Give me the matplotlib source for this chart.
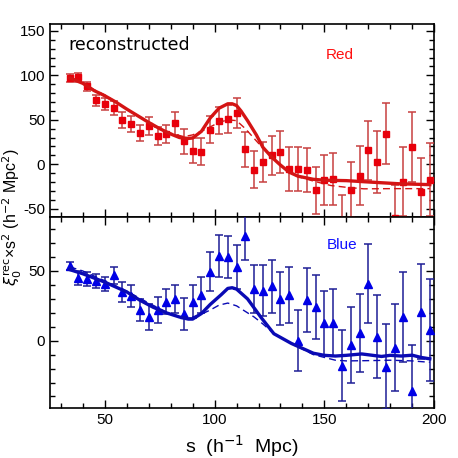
import numpy as np
import matplotlib.pyplot as plt
from matplotlib.ticker import MultipleLocator

plt.rcParams['font.family'] = ['Liberation Sans', 'DejaVu Sans']
plt.rcParams['axes.unicode_minus'] = False

# binned measurements (s in h^-1 Mpc)
s = np.arange(34, 199, 4)

red_xi = [97, 98, 87.5, 72, 68, 63, 50, 45, 35, 43, 32, 34, 46, 26, 15, 14,
          39, 49, 51, 58, 16.7, -6, 2.7, 10, 13.6, -5.7, -5.7, -6.8, -29.5,
          -18, -16.5, -65, -28.7, -12.8, 15.6, 2.3, 34.5, -60, -19.7, 19.3,
          -31.4, -17.4]
red_err = [4, 5, 5, 6, 7, 8, 9, 9, 9, 10, 10, 10, 13, 14, 14, 15, 15, 15, 16,
           17, 20, 20.5, 22.7, 22.3, 23.4, 24.6, 24.6, 25, 26, 28, 29, 30, 31,
           33, 33, 34.7, 34.5, 37, 39, 39, 38.6, 41]

blue_xi = [53.6, 44.7, 44, 43, 41, 47, 35, 32, 22, 17, 22, 28, 30, 19, 28, 33,
           49.5, 61, 60, 53, 75, 37, 36, 39, 30, 33, 0, 29, 24, 12.4, 12.9,
           -17.9, -3, 5.7, 41, 2.9, -18.6, -5, 16.8, -35.9, 20.8, 7.7]
blue_err = [3, 5, 5, 5, 5, 6, 7, 8, 8, 9, 9, 9, 10, 11.5, 12, 13, 14, 15, 15,
            16, 17, 17, 18, 19, 19, 20, 22, 23, 23, 23, 24, 25.3, 27, 28, 28.5,
            29.8, 30.4, 31, 32.3, 33, 34, 36.5]

# model curves
s_red = [34, 40, 45, 50, 55, 60, 66, 70, 75, 80, 84, 88, 90, 94, 98, 102, 106,
         108, 110, 112, 115, 119, 122, 126, 130, 134, 138, 145, 150, 160, 170,
         184, 198]
red_model = [97, 91, 83, 77, 70, 62, 53, 47, 40, 34, 30, 29, 29.5, 37, 52, 63,
             68, 68, 66, 60, 49, 33, 19, 8, -1, -9, -13.5, -17, -18, -18.5,
             -20, -22, -23]
s_red_d = [34, 40, 45, 50, 55, 60, 66, 70, 75, 80, 86, 90, 94, 98, 102, 106,
           110, 114, 118, 122, 126, 130, 134, 138, 145, 153, 160, 168, 180,
           190, 198]
red_nowig = [98, 92, 84, 78, 70, 62, 53, 47, 40, 35, 31, 33, 37, 42, 47, 50,
             49, 40, 29, 18, 8, -1, -9, -14, -19, -24, -26, -27.7, -27.5,
             -27.5, -27.5]

s_blue = [34, 40, 50, 60, 66, 72, 78, 84, 88, 90, 94, 98, 103, 106, 108, 110,
          115, 121, 127, 135, 145, 150, 155, 160, 167, 172, 176, 180, 185,
          190, 194, 198]
blue_model = [51, 48, 42, 35, 29, 24, 20, 17, 15.5, 15.5, 19.5, 26, 33, 37.5,
              38, 37, 30, 17, 5, -2, -9, -10.5, -11, -10.5, -9.5, -10.5,
              -11.3, -10.5, -11, -10.4, -12, -13]
s_blue_d = [34, 40, 50, 60, 70, 80, 86, 90, 94, 98, 102, 106, 110, 114, 118,
            122, 127, 135, 145, 150, 155, 160, 170, 180, 190, 198]
blue_nowig = [53, 50, 43, 35.5, 27, 19, 17, 17, 19, 22, 25.5, 27, 25, 21, 17,
              12, 5, -2, -10, -12, -14, -14.5, -14.3, -14, -14.5, -15.5]

red_pt = '#e8000b'
red_bar = '#c84040'
red_line = '#d41414'
blue_pt = '#0000e6'
blue_bar = '#1e1e96'
blue_line = '#0a0ab4'

fig = plt.figure(figsize=(4.58, 4.58), dpi=100)
ax1 = fig.add_axes([0.109, 0.527, 0.839, 0.421])
ax2 = fig.add_axes([0.109, 0.1085, 0.839, 0.4185], sharex=ax1)

ax1.errorbar(s, red_xi, yerr=red_err, fmt='s', color=red_pt, ms=5,
             ecolor=red_bar, elinewidth=1.1, capsize=3, capthick=1.1, zorder=3)
ax1.plot(s_red, red_model, color=red_line, lw=2.4, zorder=4)
ax1.plot(s_red_d, red_nowig, color=red_line, lw=1, ls=(0, (5, 3)), zorder=4)

ax2.errorbar(s, blue_xi, yerr=blue_err, fmt='^', color=blue_pt, ms=5.5,
             ecolor=blue_bar, elinewidth=1.1, capsize=3, capthick=1.1, zorder=3)
ax2.plot(s_blue, blue_model, color=blue_line, lw=2.4, zorder=4)
ax2.plot(s_blue_d, blue_nowig, color=blue_line, lw=1, ls=(0, (5, 3)), zorder=4)

ax1.set_xlim(25, 200)
ax1.set_ylim(-59, 158)
ax2.set_ylim(-48.5, 89)

for ax in (ax1, ax2):
    ax.xaxis.set_major_locator(MultipleLocator(50))
    ax.xaxis.set_minor_locator(MultipleLocator(10))
    ax.yaxis.set_major_locator(MultipleLocator(50))
    ax.yaxis.set_minor_locator(MultipleLocator(10))
    ax.tick_params(which='both', direction='in', top=True, right=True,
                   labelsize=11, width=1)
    ax.tick_params(which='major', length=6)
    ax.tick_params(which='minor', length=3.5)
    for sp in ax.spines.values():
        sp.set_linewidth(1.2)
ax1.tick_params(labelbottom=False)

ax1.text(0.047, 0.865, 'reconstructed', transform=ax1.transAxes, fontsize=12.5,
         family='DejaVu Sans')
ax1.text(0.755, 0.84, 'Red', transform=ax1.transAxes, fontsize=11,
         color='#ff1010', ha='center', va='center')
ax2.text(0.76, 0.85, 'Blue', transform=ax2.transAxes, fontsize=11,
         color='#1010ff', ha='center', va='center')

ax2.set_xlabel(r's  (h$^{-1}$  Mpc)', fontsize=14)
fig.text(0.028, 0.525, r'$\xi_0^{\rm rec}$×s$^2$ (h$^{-2}$ Mpc$^2$)',
         rotation=90, fontsize=11.5, ha='center', va='center')

fig.savefig('out.png', dpi=100)
